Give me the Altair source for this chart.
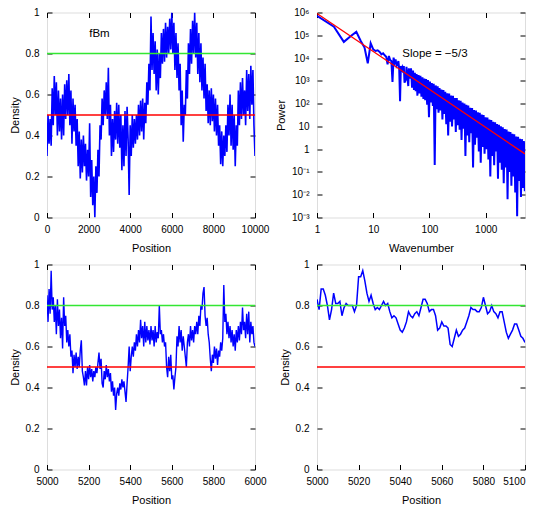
import altair as alt
import pandas as pd

FONT = "Liberation Sans"
BLUE = "#0000ff"
RED = "#ff0000"
GREEN = "#33e633"

# ---------------- Panel 1: fBm density, positions 0..10000 (sampled every 50)
p1_step = 50
p1_density = [
    0.30, 0.50, 0.36, 0.48, 0.35, 0.63, 0.45, 0.69, 0.50, 0.66, 0.40, 0.62, 0.42, 0.58, 0.38, 0.60, 0.40, 0.65, 0.48, 0.67,
    0.50, 0.70, 0.45, 0.62, 0.36, 0.58, 0.42, 0.55, 0.35, 0.48, 0.25, 0.42, 0.19, 0.38, 0.22, 0.40, 0.25, 0.36, 0.18, 0.33,
    0.20, 0.46, 0.10, 0.28, 0.06, 0.20, 0.00, 0.25, 0.12, 0.33, 0.20, 0.45, 0.38, 0.58, 0.45, 0.62, 0.50, 0.66, 0.48, 0.73,
    0.40, 0.55, 0.30, 0.48, 0.32, 0.52, 0.38, 0.56, 0.36, 0.55, 0.34, 0.50, 0.23, 0.45, 0.25, 0.52, 0.30, 0.54, 0.38, 0.11,
    0.45, 0.30, 0.50, 0.34, 0.48, 0.36, 0.50, 0.38, 0.55, 0.40, 0.57, 0.42, 0.58, 0.38, 0.56, 0.46, 0.66, 0.55, 0.75, 0.62,
    0.98, 0.72, 0.90, 0.70, 0.86, 0.62, 0.82, 0.60, 0.80, 0.68, 0.90, 0.75, 0.92, 0.76, 0.95, 0.78, 0.93, 0.80, 0.97, 0.82,
    1.00, 0.80, 0.95, 0.72, 0.90, 0.68, 0.85, 0.62, 0.75, 0.45, 0.62, 0.37, 0.55, 0.50, 0.72, 0.58, 0.85, 0.70, 0.92, 0.75,
    0.96, 0.80, 1.00, 0.78, 0.95, 0.70, 0.90, 0.66, 0.85, 0.62, 0.78, 0.58, 0.75, 0.52, 0.65, 0.46, 0.62, 0.45, 0.63, 0.47,
    0.60, 0.42, 0.58, 0.40, 0.55, 0.35, 0.45, 0.26, 0.42, 0.25, 0.40, 0.30, 0.45, 0.32, 0.55, 0.40, 0.60, 0.35, 0.55, 0.33,
    0.50, 0.25, 0.45, 0.35, 0.62, 0.45, 0.66, 0.48, 0.68, 0.50, 0.62, 0.45, 0.72, 0.52, 0.70, 0.48, 0.74, 0.55, 0.72, 0.45,
    0.30,
]
p1_position = [i * p1_step for i in range(len(p1_density))]

# ---------------- Panel 2: power spectrum (log10 of power)
p2_wavenumber = [
    1, 2, 3, 4, 5, 6, 7, 8, 9, 10,
    11, 12, 13, 14, 15, 16, 17, 18, 19, 20,
    21, 22, 23, 24, 25, 26, 27, 28, 29, 30,
    31, 32, 33, 34, 35, 36, 38, 39, 40, 42,
    43, 45, 47, 49, 51, 53, 55, 57, 59, 61,
    64, 66, 69, 72, 75, 78, 81, 84, 87, 91,
    94, 98, 102, 106, 110, 115, 119, 124, 129, 134,
    140, 145, 151, 157, 163, 170, 177, 184, 191, 199,
    207, 215, 224, 233, 242, 252, 262, 272, 283, 294,
    306, 318, 331, 344, 358, 372, 387, 403, 419, 436,
    453, 471, 490, 510, 530, 551, 573, 596, 620, 645,
    671, 698, 726, 755, 785, 816, 849, 883, 918, 955,
    993, 1033, 1074, 1117, 1162, 1208, 1257, 1307, 1359, 1414,
    1470, 1529, 1590, 1654, 1720, 1789, 1860, 1935, 2012, 2093,
    2176, 2263, 2354, 2448, 2546, 2648, 2754, 2864, 2978, 3098,
    3221, 3350, 3484, 3624, 3768, 3919, 4076, 4239, 4408, 4585,
    4768, 4959, 5000,
]
p2_log10_power = [
    5.85, 5.38, 4.71, 4.97, 5.15, 4.75, 4.46, 3.77, 4.65, 4.38,
    4.31, 4.34, 4.27, 4.16, 4.21, 4.12, 4.06, 3.72, 4.09, 3.91,
    3.87, 2.95, 4.02, 3.80, 3.94, 3.65, 3.72, 3.87, 3.50, 2.11,
    3.65, 3.50, 3.58, 3.36, 3.65, 2.92, 3.06, 3.62, 3.28, 2.77,
    3.55, 3.10, 3.55, 2.70, 3.45, 2.60, 3.35, 2.55, 3.30, 2.35,
    3.25, 2.45, 3.22, 2.30, 3.15, 2.20, 3.10, 2.15, 3.08, 1.95,
    3.03, 1.40, 2.97, 2.05, 2.90, 1.90, 2.87, -0.70, 2.80, 1.75,
    2.76, 1.60, 2.68, 1.70, 2.62, 1.30, 2.60, 1.55, 2.52, 1.10,
    2.45, 0.60, 2.44, 1.20, 2.36, 1.00, 2.34, 1.30, 2.25, 0.75,
    2.24, 1.05, 2.15, 0.85, 2.13, 0.40, 2.05, 0.90, 2.00, -0.30,
    1.95, 0.60, 1.92, 0.30, 1.82, 0.70, 1.81, -0.80, 1.72, 0.20,
    1.70, 0.50, 1.62, -0.10, 1.60, -0.60, 1.52, 0.10, 1.50, -0.20,
    1.40, 0.00, 1.39, -0.45, 1.30, -1.20, 1.28, -0.30, 1.20, -0.70,
    1.18, -0.10, 1.10, -1.30, 1.07, -0.60, 1.00, -0.90, 0.96, -1.50,
    0.88, -0.80, 0.86, -2.20, 0.78, -1.00, 0.75, -1.60, 0.68, -1.20,
    0.65, -1.90, 0.56, -2.95, 0.54, -1.40, 0.46, -2.10, 0.44, -1.70,
    0.36, -1.85, 0.30,
]
p2_power = [10 ** v for v in p2_log10_power]
fit_wavenumber = [1, 5000]
fit_power = [9.0e5, 0.62]

# ---------------- Panel 3: positions 5000..6000 (sampled every 5)
p3_start, p3_step = 5000, 5
p3_density = [
    0.85, 0.72, 0.88, 0.76, 0.97, 0.78, 0.84, 0.72, 0.80, 0.66, 0.83, 0.70, 0.78, 0.64, 0.74, 0.59, 0.84, 0.70, 0.75, 0.62,
    0.68, 0.60, 0.66, 0.55, 0.58, 0.47, 0.56, 0.50, 0.57, 0.49, 0.55, 0.50, 0.58, 0.63, 0.48, 0.45, 0.41, 0.48, 0.41, 0.50,
    0.44, 0.51, 0.45, 0.49, 0.43, 0.48, 0.45, 0.50, 0.47, 0.52, 0.57, 0.49, 0.54, 0.42, 0.40, 0.48, 0.44, 0.51, 0.45, 0.49,
    0.43, 0.47, 0.38, 0.43, 0.36, 0.40, 0.29, 0.37, 0.40, 0.36, 0.42, 0.39, 0.44, 0.40, 0.43, 0.38, 0.33, 0.42, 0.50, 0.60,
    0.48, 0.55, 0.60, 0.55, 0.62, 0.58, 0.66, 0.60, 0.68, 0.62, 0.73, 0.64, 0.70, 0.60, 0.72, 0.62, 0.70, 0.63, 0.68, 0.61,
    0.70, 0.63, 0.68, 0.60, 0.70, 0.62, 0.67, 0.64, 0.80, 0.66, 0.68, 0.62, 0.66, 0.60, 0.62, 0.50, 0.45, 0.55, 0.48, 0.56,
    0.44, 0.46, 0.39, 0.45, 0.50, 0.65, 0.60, 0.70, 0.62, 0.68, 0.58, 0.65, 0.60, 0.55, 0.50, 0.62, 0.66, 0.60, 0.70, 0.63,
    0.68, 0.62, 0.70, 0.66, 0.72, 0.66, 0.75, 0.70, 0.80, 0.78, 0.86, 0.89, 0.75, 0.70, 0.74, 0.66, 0.62, 0.54, 0.48, 0.56,
    0.52, 0.60, 0.54, 0.59, 0.51, 0.58, 0.55, 0.62, 0.58, 0.64, 0.90, 0.72, 0.76, 0.66, 0.72, 0.64, 0.70, 0.62, 0.68, 0.60,
    0.66, 0.58, 0.68, 0.62, 0.70, 0.63, 0.72, 0.66, 0.79, 0.68, 0.72, 0.64, 0.76, 0.66, 0.77, 0.62, 0.72, 0.66, 0.70, 0.62,
    0.60,
]
p3_position = [p3_start + i * p3_step for i in range(len(p3_density))]

# ---------------- Panel 4: positions 5000..5100 (every point)
p4_start = 5000
p4_density = [
    0.83, 0.78, 0.88, 0.88, 0.85, 0.80, 0.73, 0.78, 0.86, 0.81,
    0.81, 0.82, 0.75, 0.79, 0.81, 0.80, 0.80, 0.80, 0.77, 0.80,
    0.94, 0.94, 0.97, 0.92, 0.86, 0.82, 0.85, 0.81, 0.78, 0.79,
    0.78, 0.80, 0.82, 0.80, 0.81, 0.77, 0.74, 0.75, 0.74, 0.71,
    0.68, 0.67, 0.69, 0.72, 0.77, 0.75, 0.74, 0.76, 0.77, 0.75,
    0.79, 0.83, 0.83, 0.81, 0.77, 0.78, 0.78, 0.75, 0.68, 0.69,
    0.72, 0.70, 0.70, 0.69, 0.61, 0.60, 0.64, 0.68, 0.65, 0.66,
    0.68, 0.69, 0.72, 0.75, 0.79, 0.78, 0.78, 0.77, 0.77, 0.79,
    0.84, 0.80, 0.76, 0.77, 0.80, 0.77, 0.76, 0.74, 0.77, 0.77,
    0.72, 0.67, 0.64, 0.66, 0.68, 0.71, 0.71, 0.68, 0.65, 0.64,
    0.62,
]
p4_position = [p4_start + i for i in range(len(p4_density))]

threshold_values = [0.5, 0.8]
threshold_colors = [RED, GREEN]

density_ticks = [0, 0.2, 0.4, 0.6, 0.8, 1.0]
p1_xticks = [0, 2000, 4000, 6000, 8000, 10000]
p2_xticks = [1, 10, 100, 1000]
p2_yticks = [1e-3, 1e-2, 1e-1, 1, 10, 1e2, 1e3, 1e4, 1e5, 1e6]
p2_ylabels = ["10⁻³", "10⁻²", "10⁻¹", "1", "10", "10²", "10³", "10⁴", "10⁵", "10⁶"]
p3_xticks = [5000, 5200, 5400, 5600, 5800, 6000]
p4_xticks = [5000, 5020, 5040, 5060, 5080, 5100]

W, H = 208, 205
TICK = 5


def axis(orient, values, title=None, labels=True, fmt="d", label_expr=None, right_last=None):
    kw = dict(orient=orient, values=values, offset=-TICK, tickSize=TICK, domain=False,
              grid=False, labels=labels, title=title, tickColor="black", tickWidth=1,
              labelFlush=False)
    if labels:
        kw["format"] = fmt
        kw["labelPadding"] = 7 if orient in ("bottom", "top") else 8
    if label_expr is not None:
        kw["labelExpr"] = label_expr
    if right_last is not None:
        # keep the last label inside the page so nothing overflows the window
        kw["labelAlign"] = {"condition": {"test": "datum.value >= %g" % right_last,
                                          "value": "right"}, "value": "center"}
    if title:
        kw["titlePadding"] = 8 if orient in ("bottom", "top") else 5
        kw["titleFontWeight"] = "normal"
    return alt.Axis(**kw)


def panel(xs, ys, xscale, yscale, xticks, yticks, xtitle, ytitle, stroke, yfmt=".1~f",
          ylabel_expr=None, extra=None, right_last=None):
    df = pd.DataFrame({"x": xs, "y": ys})
    base = alt.Chart(df)
    line = base.mark_line(color=BLUE, strokeWidth=stroke, clip=True).encode(
        x=alt.X("x:Q", scale=xscale, axis=axis("bottom", xticks, xtitle, right_last=right_last)),
        y=alt.Y("y:Q", scale=yscale,
                axis=axis("left", yticks, ytitle, fmt=yfmt, label_expr=ylabel_expr)),
    )
    mirror = base.mark_line(opacity=0).encode(
        x=alt.X("x:Q", scale=xscale, axis=axis("top", xticks, labels=False)),
        y=alt.Y("y:Q", scale=yscale, axis=axis("right", yticks, labels=False)),
    )
    layers = [line] + (extra or []) + [mirror]
    return alt.layer(*layers).resolve_axis(x="independent", y="independent").properties(
        width=W, height=H)


def thresholds(yscale):
    tdf = pd.DataFrame({"v": threshold_values, "c": threshold_colors})
    return alt.Chart(tdf).mark_rule(strokeWidth=1.3).encode(
        y=alt.Y("v:Q", scale=yscale, axis=None),
        color=alt.Color("c:N", scale=None, legend=None),
    )


dens_scale = alt.Scale(domain=[0, 1], nice=False, zero=False)

# fBm label
fbm_df = pd.DataFrame({"x": [2520], "y": [0.895], "t": ["fBm"]})
p1_x = alt.Scale(domain=[0, 10000], nice=False, zero=False)
fbm_text = alt.Chart(fbm_df).mark_text(font=FONT, fontSize=11.5, color="black").encode(
    x=alt.X("x:Q", scale=p1_x, axis=None),
    y=alt.Y("y:Q", scale=dens_scale, axis=None),
    text="t:N",
)

p1 = panel(p1_position, p1_density, p1_x, dens_scale, p1_xticks, density_ticks,
           "Position", "Density", 1.6, extra=[thresholds(dens_scale), fbm_text])

# Power spectrum
kx = alt.Scale(type="log", domain=[1, 5000], nice=False)
py = alt.Scale(type="log", domain=[1e-3, 1e6], nice=False)
fit_df = pd.DataFrame({"k": fit_wavenumber, "p": fit_power})
fit_line = alt.Chart(fit_df).mark_line(color=RED, strokeWidth=1.3, clip=True).encode(
    x=alt.X("k:Q", scale=kx, axis=None), y=alt.Y("p:Q", scale=py, axis=None))
slope_df = pd.DataFrame({"k": [125], "p": [1.45e4], "t": ["Slope = −5/3"]})
slope_text = alt.Chart(slope_df).mark_text(font=FONT, fontSize=11.5, color="black").encode(
    x=alt.X("k:Q", scale=kx, axis=None), y=alt.Y("p:Q", scale=py, axis=None), text="t:N")
label_lookup = "[" + ",".join("'%s'" % s for s in p2_ylabels) + "][round(log(datum.value)/LN10)+3]"
p2 = panel(p2_wavenumber, p2_power, kx, py, p2_xticks, p2_yticks, "Wavenumber", "Power", 2.0,
           ylabel_expr=label_lookup, extra=[fit_line, slope_text])

p3_x = alt.Scale(domain=[5000, 6000], nice=False, zero=False)
p3 = panel(p3_position, p3_density, p3_x, dens_scale, p3_xticks, density_ticks,
           "Position", "Density", 1.4, extra=[thresholds(dens_scale)])

p4_x = alt.Scale(domain=[5000, 5100], nice=False, zero=False)
p4 = panel(p4_position, p4_density, p4_x, dens_scale, p4_xticks, density_ticks,
           "Position", "Density", 1.5, extra=[thresholds(dens_scale)], right_last=5100)

chart = alt.concat(p1, p2, p3, p4, columns=2, spacing={"row": 47, "column": 62},
                   bounds="flush",
                   padding={"left": 0, "top": -1.5, "right": 0, "bottom": 0}).configure_axis(
    labelFont=FONT, labelFontSize=11.5, labelColor="black",
    titleFont=FONT, titleFontSize=11.5, titleColor="black", titleFontWeight="normal",
).configure_view(stroke="black", strokeWidth=1.2).configure(background="white")

chart.save("out.html", embed_options={"renderer": "svg", "actions": False})
